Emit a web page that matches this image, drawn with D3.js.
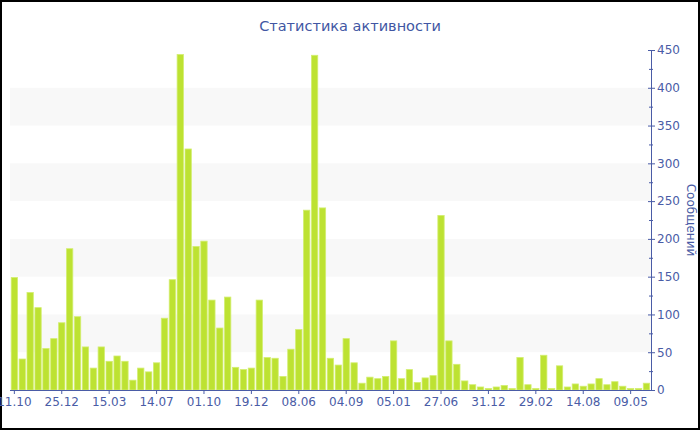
<!DOCTYPE html>
<html><head><meta charset="utf-8">
<script src="https://cdn.jsdelivr.net/npm/d3@7"></script>
<style>
html,body{margin:0;padding:0;background:#fff;}
svg{display:block;}
</style></head>
<body>
<script>
const values = [149,41,129,109,55,68,89,187,97,57,29,57,38,45,38,13,29,24,36,95,
146,444,319,190,197,119,82,123,30,27,29,119,43,42,18,54,80,238,443,241,
42,33,68,36,9,17,15,18,65,15,27,10,16,19,231,65,34,12,7,4,
2,4,6,2,43,7,2,46,2,32,4,8,5,8,15,7,11,5,2,2,9];
const tickLabels = ["11.10","25.12","15.03","14.07","01.10","19.12","08.06","04.09","05.01","27.06","31.12","29.02","14.08","09.05"];
const tickEvery = 6;
const yTicks = [0,50,100,150,200,250,300,350,400,450];
const bandRanges = [[50,100],[150,200],[250,300],[350,400]];
const title = "Статистика активности";
const yTitle = "Сообщений";

const W = 700, H = 430;
const axisColor = "#4a5ca6";
const font = "'DejaVu Sans', Verdana, sans-serif";
const categories = values.map((d,i)=>i);

const svg = d3.select("body").append("svg").attr("width",W).attr("height",H);
svg.append("rect").attr("x",1).attr("y",1).attr("width",W-2).attr("height",H-2)
  .attr("fill","#fff").attr("stroke","#000").attr("stroke-width",2);

const x = d3.scaleBand().domain(categories).range([10.4,650.4]).paddingInner(0.2).paddingOuter(0.1);
const y = d3.scaleLinear().domain([0,450]).range([390,50]);
const xL = 10, xR = 651;

// bands
svg.append("g").selectAll("rect").data(bandRanges).join("rect")
  .attr("x",xL).attr("width",xR-xL)
  .attr("y",d=>y(d[1])).attr("height",d=>y(d[0])-y(d[1]))
  .attr("fill","#f8f8f8");

// bars
svg.append("g").selectAll("rect").data(values).join("rect")
  .attr("x",(d,i)=>x(i)).attr("width",x.bandwidth())
  .attr("y",d=>y(d)).attr("height",d=>y(0)-y(d))
  .attr("fill","#bde232").attr("stroke","#d3ee70").attr("stroke-width",0.8);

// x axis
const tickVals = tickLabels.map((t,k)=>k*tickEvery);
const xAxis = d3.axisBottom(x).tickValues(tickVals)
  .tickFormat(d=>tickLabels[d/tickEvery]).tickSizeInner(4).tickSizeOuter(0).tickPadding(3);
const gx = svg.append("g").attr("transform","translate(0,390)").call(xAxis);
gx.select(".domain").attr("stroke",axisColor).attr("d",`M${xL},0.5H${xR}`);
gx.selectAll(".tick line").attr("stroke",axisColor);
gx.selectAll("text").attr("fill",axisColor).style("font-family",font).style("font-size","12px");

// y axis right
const yAxis = d3.axisRight(y).tickValues(yTicks).tickSizeInner(4).tickSizeOuter(0).tickPadding(2);
const gy = svg.append("g").attr("transform",`translate(${xR},0)`).call(yAxis);
gy.select(".domain").attr("stroke",axisColor);
gy.selectAll(".tick line").attr("stroke",axisColor).attr("x1",-3);
gy.selectAll("text").attr("fill",axisColor).style("font-family",font).style("font-size","12px");
// minor ticks
const minor = d3.range(25,450,50);
gy.append("g").selectAll("line").data(minor).join("line")
  .attr("x1",-2).attr("x2",2).attr("y1",d=>y(d)+0.5).attr("y2",d=>y(d)+0.5)
  .attr("stroke",axisColor);

// y title
svg.append("text").attr("transform","translate(687,220) rotate(90)")
  .attr("text-anchor","middle").attr("fill",axisColor)
  .style("font-family",font).style("font-size","12px").text(yTitle);

// title
svg.append("text").attr("x",350).attr("y",31).attr("text-anchor","middle")
  .attr("fill","#4156a3").style("font-family",font).style("font-size","14.5px").text(title);
</script>
</body></html>
